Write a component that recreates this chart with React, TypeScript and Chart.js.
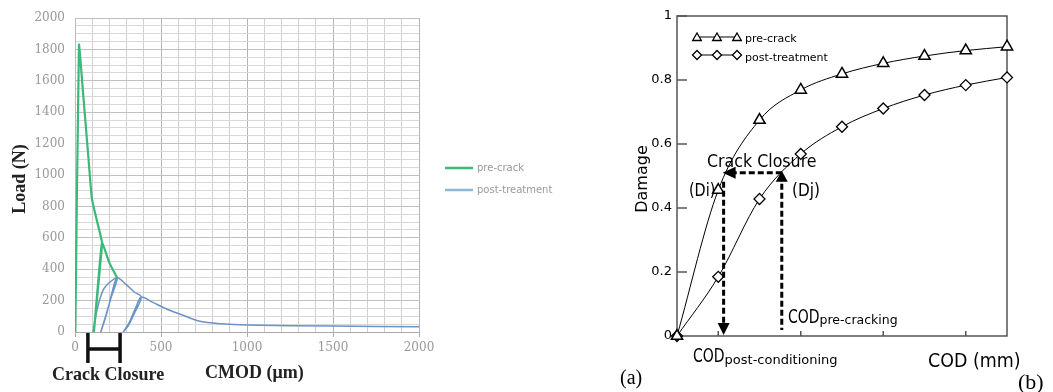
import React, { useEffect, useRef } from 'react';
import { Chart, registerables } from 'chart.js';

Chart.register(...registerables);

// ---------- Panel (a): Load vs CMOD ----------
const preCrackCMOD = [2, 23, 50, 75, 98, 125, 157, 140, 120, 110, 120, 138, 157, 200, 245];
const preCrackLoad = [0, 1830, 1480, 1150, 850, 720, 570, 350, 120, 0, 130, 360, 570, 440, 345];
const postTreatCMOD = [105, 130, 170, 245, 210, 175, 150, 185, 215, 245, 300, 345, 385, 350, 310, 280, 315, 355, 385, 450, 535, 620, 727, 850, 1000, 1500, 2000];
const postTreatLoad = [0, 150, 280, 345, 220, 90, 0, 120, 250, 345, 300, 255, 223, 130, 40, 0, 60, 160, 223, 190, 145, 110, 68, 52, 44, 38, 33];
const cmodTickLabels = [0, 500, 1000, 1500, 2000];
const loadTickLabels = [0, 200, 400, 600, 800, 1000, 1200, 1400, 1600, 1800, 2000];
const crackClosureCMOD = [75, 262];

// ---------- Panel (b): Damage vs COD ----------
const codSteps = [0, 1, 2, 3, 4, 5, 6, 7, 8];
const preCrackDamage = [0, 0.456, 0.675, 0.769, 0.819, 0.852, 0.875, 0.892, 0.904];
const postTreatDamage = [0, 0.185, 0.428, 0.569, 0.654, 0.711, 0.753, 0.784, 0.808];
const damageTickMarks = [0.2, 0.4, 0.6, 0.8, 1];
const codTickMarks = [1, 3, 5, 7];
const closureCOD = [1.13, 2.54];
const closureDamage = 0.51;

const GREEN = '#3cb878';
const BLUE = '#6b93c6';
const SANS = '"DejaVu Sans", sans-serif';
const SERIF = '"Liberation Serif", "Times New Roman", serif';

const toXY = (xs: number[], ys: number[]) => xs.map((x, i) => ({ x, y: ys[i] }));

function sText(ctx: CanvasRenderingContext2D, text: string, x: number, y: number, size: number, k: number) {
  ctx.save();
  ctx.font = `${size}px ${SANS}`;
  ctx.textAlign = 'left';
  ctx.textBaseline = 'alphabetic';
  ctx.translate(x, y);
  ctx.scale(k, 1);
  ctx.fillText(text, 0, 0);
  const w = ctx.measureText(text).width * k;
  ctx.restore();
  return w;
}

function tri(ctx: CanvasRenderingContext2D, x: number, y: number, r: number) {
  ctx.beginPath();
  ctx.moveTo(x, y - r);
  ctx.lineTo(x + r * 0.866, y + r * 0.5);
  ctx.lineTo(x - r * 0.866, y + r * 0.5);
  ctx.closePath();
  ctx.fill();
  ctx.stroke();
}

function diamond(ctx: CanvasRenderingContext2D, x: number, y: number, r: number) {
  ctx.beginPath();
  ctx.moveTo(x, y - r);
  ctx.lineTo(x + r, y);
  ctx.lineTo(x, y + r);
  ctx.lineTo(x - r, y);
  ctx.closePath();
  ctx.fill();
  ctx.stroke();
}

const plugA = {
  id: 'annotA',
  afterDraw(chart: any) {
    const { ctx, scales } = chart;
    const xs = scales.x;
    ctx.save();
    ctx.fillStyle = '#222';
    ctx.font = `bold 18px ${SERIF}`;
    ctx.save();
    ctx.translate(25, 179);
    ctx.rotate(-Math.PI / 2);
    ctx.textAlign = 'center';
    ctx.fillText('Load (N)', 0, 0);
    ctx.restore();
    ctx.textAlign = 'left';
    ctx.fillText('Crack Closure', 52, 380);
    ctx.fillText('CMOD (\u03bcm)', 205, 378);
    const x1 = xs.getPixelForValue(crackClosureCMOD[0]);
    const x2 = xs.getPixelForValue(crackClosureCMOD[1]);
    ctx.strokeStyle = '#111';
    ctx.lineWidth = 3.5;
    ctx.beginPath();
    ctx.moveTo(x1, 333); ctx.lineTo(x1, 363);
    ctx.moveTo(x2, 333); ctx.lineTo(x2, 363);
    ctx.moveTo(x1, 349); ctx.lineTo(x2, 349);
    ctx.stroke();
    ctx.lineWidth = 2.5;
    ctx.strokeStyle = GREEN;
    ctx.beginPath(); ctx.moveTo(445, 168); ctx.lineTo(473, 168); ctx.stroke();
    ctx.strokeStyle = '#8fb6d2';
    ctx.beginPath(); ctx.moveTo(445, 190); ctx.lineTo(473, 190); ctx.stroke();
    ctx.fillStyle = '#999';
    ctx.font = `10px ${SANS}`;
    ctx.textBaseline = 'middle';
    ctx.fillText('pre-crack', 477, 168);
    ctx.fillText('post-treatment', 477, 190);
    ctx.restore();
  },
};

const plugB = {
  id: 'annotB',
  beforeDatasetsDraw(chart: any) {
    const { ctx, chartArea: a, scales } = chart;
    ctx.save();
    ctx.strokeStyle = '#555';
    ctx.lineWidth = 1.5;
    ctx.strokeRect(a.left, a.top, a.right - a.left, a.bottom - a.top);
    ctx.beginPath();
    damageTickMarks.forEach((v) => {
      const py = scales.y.getPixelForValue(v);
      ctx.moveTo(a.left, py); ctx.lineTo(a.left + 10, py);
    });
    codTickMarks.forEach((v) => {
      const px = scales.x.getPixelForValue(v);
      ctx.moveTo(px, a.bottom); ctx.lineTo(px, a.bottom - 5);
    });
    ctx.stroke();
    ctx.restore();
  },
  afterDatasetsDraw(chart: any) {
    const { ctx, chartArea: a, scales } = chart;
    const xL = scales.x.getPixelForValue(closureCOD[0]);
    const xR = scales.x.getPixelForValue(closureCOD[1]);
    const yC = scales.y.getPixelForValue(closureDamage);
    ctx.save();
    ctx.strokeStyle = '#000';
    ctx.fillStyle = '#000';
    ctx.lineWidth = 3;
    ctx.setLineDash([6, 3]);
    ctx.beginPath();
    ctx.moveTo(xR, yC); ctx.lineTo(xL + 10, yC);
    ctx.moveTo(xR, yC + 11); ctx.lineTo(xR, a.bottom - 6);
    ctx.moveTo(xL, yC + 9); ctx.lineTo(xL, a.bottom - 12);
    ctx.stroke();
    ctx.setLineDash([]);
    ctx.lineWidth = 1;
    ctx.beginPath();
    ctx.moveTo(xL - 1, yC); ctx.lineTo(xL + 12, yC - 6); ctx.lineTo(xL + 12, yC + 6); ctx.closePath();
    ctx.fill();
    ctx.beginPath();
    ctx.moveTo(xR, yC - 2); ctx.lineTo(xR - 6, yC + 9); ctx.lineTo(xR + 6, yC + 9); ctx.closePath();
    ctx.fill();
    ctx.beginPath();
    ctx.moveTo(xL, a.bottom - 1); ctx.lineTo(xL - 6, a.bottom - 13); ctx.lineTo(xL + 6, a.bottom - 13); ctx.closePath();
    ctx.fill();

    sText(ctx, 'Crack Closure', 107, 167, 18, 0.88);
    sText(ctx, '(Di)', 89, 196, 18, 0.8);
    sText(ctx, '(Dj)', 192, 196, 18, 0.85);
    let w = sText(ctx, 'COD', 188, 323, 20, 0.7);
    sText(ctx, 'pre-cracking', 188 + w, 324, 12.5, 1);
    w = sText(ctx, 'COD', 93, 362, 20, 0.7);
    sText(ctx, 'post-conditioning', 93 + w, 364, 13, 1);
    sText(ctx, 'COD (mm)', 328, 367, 19, 0.92);
    ctx.save();
    ctx.translate(47, 179);
    ctx.rotate(-Math.PI / 2);
    ctx.font = `16px ${SANS}`;
    ctx.textAlign = 'center';
    ctx.fillText('Damage', 0, 0);
    ctx.restore();
    ctx.font = `22px ${SERIF}`;
    ctx.fillText('(b)', 418, 389);

    ctx.lineWidth = 1;
    ctx.strokeStyle = '#000';
    ctx.beginPath(); ctx.moveTo(97, 37); ctx.lineTo(137, 37); ctx.stroke();
    ctx.beginPath(); ctx.moveTo(97, 55); ctx.lineTo(137, 55); ctx.stroke();
    ctx.fillStyle = '#fff';
    ctx.lineWidth = 1.3;
    [97, 117, 137].forEach((px) => { tri(ctx, px, 38, 5); diamond(ctx, px, 55, 4.5); });
    ctx.fillStyle = '#000';
    ctx.font = `11px ${SANS}`;
    ctx.textAlign = 'left';
    ctx.fillText('pre-crack', 145, 42);
    ctx.fillText('post-treatment', 145, 61);
    ctx.restore();
  },
};

export default function App() {
  const refA = useRef<HTMLCanvasElement>(null);
  const refB = useRef<HTMLCanvasElement>(null);

  useEffect(() => {
    const chartA = new Chart(refA.current as HTMLCanvasElement, {
      type: 'scatter',
      data: {
        datasets: [
          {
            label: 'pre-crack',
            data: toXY(preCrackCMOD, preCrackLoad),
            showLine: true,
            borderColor: GREEN,
            borderWidth: 2.2,
            pointRadius: 0,
            tension: 0.1,
          },
          {
            label: 'post-treatment',
            data: toXY(postTreatCMOD, postTreatLoad),
            showLine: true,
            borderColor: BLUE,
            borderWidth: 1.5,
            pointRadius: 0,
            tension: 0.3,
          },
        ],
      },
      options: {
        responsive: false,
        animation: false,
        events: [],
        layout: { padding: { left: 0, top: 18, right: 181, bottom: 0 } },
        plugins: { legend: { display: false }, tooltip: { enabled: false } },
        scales: {
          x: {
            type: 'linear',
            min: 0,
            max: 2000,
            afterFit: (s: any) => { s.height = 60; },
            ticks: {
              stepSize: 100,
              autoSkip: false,
              maxRotation: 0,
              padding: 4,
              color: '#999',
              font: { family: 'DejaVu Serif', size: 12 },
              callback: (v: any) => (cmodTickLabels.includes(v) ? String(v) : ''),
            },
            grid: {
              color: (c: any) => (c.tick && c.tick.value % 500 === 0 ? '#b4b4b4' : '#d0d0d0'),
              tickLength: 5,
              tickColor: (c: any) => (c.tick && c.tick.value % 500 === 0 ? '#aaa' : 'rgba(0,0,0,0)'),
            },
            border: { color: '#aaa' },
          },
          y: {
            type: 'linear',
            min: 0,
            max: 2000,
            afterFit: (s: any) => { s.width = 75; },
            ticks: {
              stepSize: 50,
              autoSkip: false,
              padding: 10,
              color: '#999',
              font: { family: 'DejaVu Serif', size: 12 },
              callback: (v: any) => (loadTickLabels.includes(v) ? String(v) : ''),
            },
            grid: {
              color: (c: any) => (c.tick && c.tick.value % 200 === 0 ? '#c0c0c0' : '#d8d8d8'),
              drawTicks: false,
            },
            border: { color: '#bbb' },
          },
        },
      },
      plugins: [plugA],
    } as any);

    const chartB = new Chart(refB.current as HTMLCanvasElement, {
      type: 'scatter',
      data: {
        datasets: [
          {
            label: 'pre-crack',
            data: toXY(codSteps, preCrackDamage),
            showLine: true,
            borderColor: '#000',
            borderWidth: 1,
            pointStyle: 'triangle',
            pointRadius: 6.5,
            pointBorderWidth: 1.5,
            pointBackgroundColor: '#fff',
            pointBorderColor: '#000',
            cubicInterpolationMode: 'monotone',
            clip: false,
          },
          {
            label: 'post-treatment',
            data: toXY(codSteps, postTreatDamage),
            showLine: true,
            borderColor: '#000',
            borderWidth: 1,
            pointStyle: 'rectRot',
            pointRadius: 5.5,
            pointBorderWidth: 1.3,
            pointBackgroundColor: '#fff',
            pointBorderColor: '#000',
            cubicInterpolationMode: 'monotone',
            clip: false,
          },
        ],
      },
      options: {
        responsive: false,
        animation: false,
        events: [],
        layout: { padding: { left: 0, top: 16, right: 46, bottom: 0 } },
        plugins: { legend: { display: false }, tooltip: { enabled: false } },
        scales: {
          x: {
            type: 'linear',
            min: 0,
            max: 8,
            afterFit: (s: any) => { s.height = 56; },
            ticks: { display: false },
            grid: { display: false, drawTicks: false },
            border: { display: false },
          },
          y: {
            type: 'linear',
            min: 0,
            max: 1,
            afterFit: (s: any) => { s.width = 77; },
            ticks: {
              stepSize: 0.2,
              padding: 5,
              color: '#000',
              font: { family: 'DejaVu Sans', size: 13 },
              callback: (v: any) => (v === 0 ? '0' : v === 1 ? '1' : Number(v).toFixed(1)),
            },
            grid: { display: false, drawTicks: false },
            border: { display: false },
          },
        },
      },
      plugins: [plugB],
    } as any);

    return () => {
      chartA.destroy();
      chartB.destroy();
    };
  }, []);

  return (
    <div style={{ position: 'absolute', left: 0, top: 0, width: 1053, height: 392, background: '#fff', overflow: 'hidden' }}>
      <canvas ref={refA} width={600} height={392} style={{ position: 'absolute', left: 0, top: 0, width: 600, height: 392 }} />
      <canvas ref={refB} width={453} height={392} style={{ position: 'absolute', left: 600, top: 0, width: 453, height: 392 }} />
      <div style={{ position: 'absolute', left: 620, top: 366, font: `20px ${SERIF}`, color: '#000', lineHeight: 'normal' }}>(a)</div>
    </div>
  );
}
